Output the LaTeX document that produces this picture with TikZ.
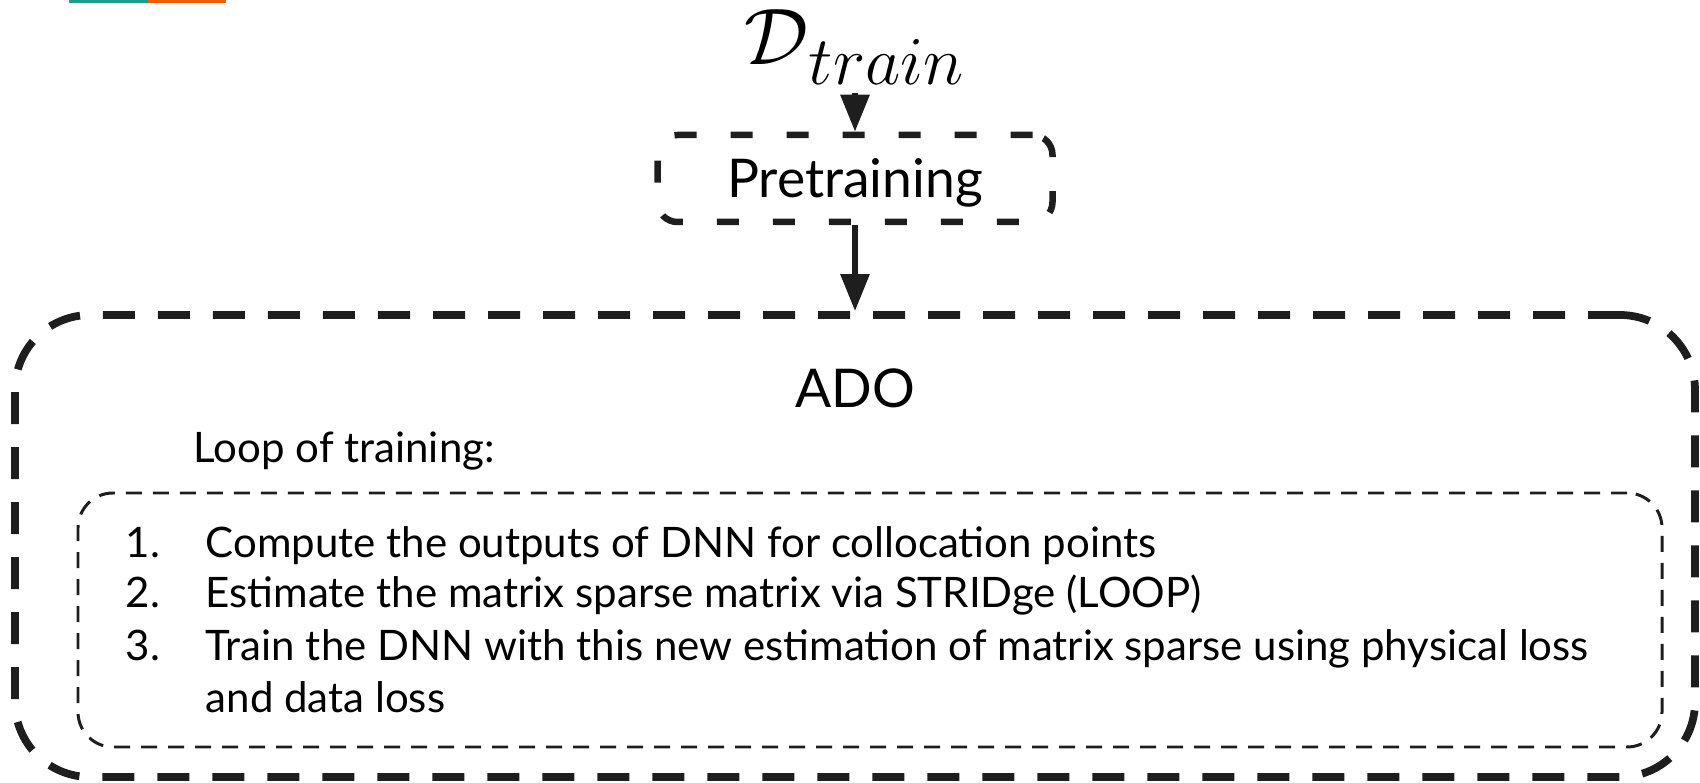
\documentclass[tikz,border=0pt]{standalone}
\usepackage{fontspec}
\setmainfont{Lato}
\usepackage{tikz}
\usetikzlibrary{arrows.meta}

\definecolor{linegray}{RGB}{30,30,30}
\definecolor{barteal}{RGB}{27,158,139}
\definecolor{barorange}{RGB}{242,92,5}

\begin{document}
\begin{tikzpicture}[every node/.style={inner sep=0pt, text=black},
    dashbox/.style={draw=linegray, rounded corners=0.2cm, line width=1.85pt, dash pattern=on 0.22cm off 0.34cm, minimum width=3.95cm, minimum height=0.87cm},
    outerbox/.style={draw=linegray, rounded corners=0.75cm, line width=2.2pt, dash pattern=on 0.32cm off 0.23cm, minimum width=16.8cm, minimum height=4.62cm},
    innerbox/.style={draw=linegray, rounded corners=0.35cm, line width=0.85pt, dash pattern=on 0.16cm off 0.11cm, minimum width=15.84cm, minimum height=2.54cm},
    bigtext/.style={font=\fontsize{15.2}{18}\selectfont},
    steptext/.style={font=\fontsize{11.95}{14.7}\selectfont, anchor=base west},
    flow/.style={draw=linegray, line width=1.7pt, -{Triangle[width=0.28cm, length=0.37cm]}}]
  \useasboundingbox (0cm, 0cm) rectangle (17cm, 7.82cm);
  % colour bar in the corner
  \fill[barteal] (0.69cm, 7.79cm) rectangle (1.48cm, 7.82cm);
  \fill[barorange] (1.48cm, 7.79cm) rectangle (2.26cm, 7.82cm);

  \node (dtrain) [anchor=base, inner sep=0.07cm, font=\fontsize{20.74}{24}\selectfont] at (8.55cm, 7.17cm) {$\scalebox{1.1}{$\mathcal{D}$}_{\mbox{\fontsize{17.28}{20}\selectfont\scalebox{1.13}{$train$}}}$};
  \node (pretrain) [dashbox, bigtext, text height=0.38cm, text depth=0pt] at (8.55cm, 6.035cm) {Pretraining};

  \node (ado) [outerbox] at (8.55cm, 2.36cm) {};
  \node (adotitle) [bigtext, anchor=base] at (8.55cm, 3.74cm) {ADO};
  \node (looptitle) [steptext] at (1.93cm, 3.19cm) {Loop of training:};
  \node (loopbox) [innerbox] at (8.70cm, 1.62cm) {};

  \node (num1) [steptext] at (1.25cm, 2.25cm) {1.};
  \node (step1) [steptext] at (2.05cm, 2.25cm) {Compute the outputs of DNN for collocation points};
  \node (num2) [steptext] at (1.25cm, 1.74cm) {2.};
  \node (step2) [steptext] at (2.05cm, 1.74cm) {Estimate the matrix sparse matrix via STRIDge (LOOP)};
  \node (num3) [steptext] at (1.25cm, 1.22cm) {3.};
  \node (step3) [steptext] at (2.05cm, 1.22cm) {Train the DNN with this new estimation of matrix sparse using physical loss};
  \node (step3b) [steptext] at (2.05cm, 0.70cm) {and data loss};

  \draw[flow] (dtrain) -- (pretrain);
  \draw[flow] (pretrain) -- (ado);
\end{tikzpicture}
\end{document}
